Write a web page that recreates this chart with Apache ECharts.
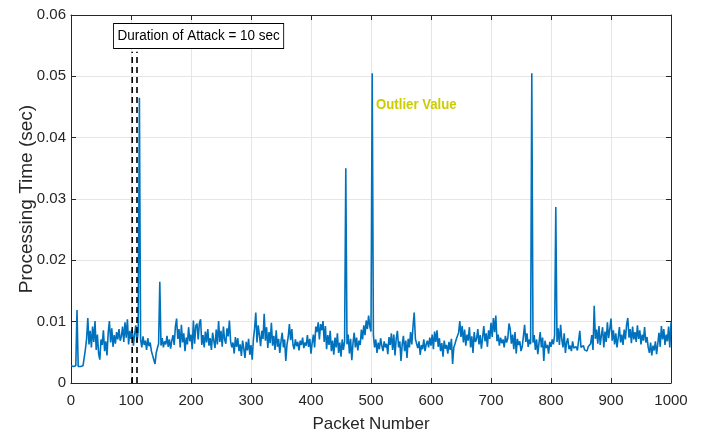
<!DOCTYPE html>
<html>
<head>
<meta charset="utf-8">
<script src="https://cdn.jsdelivr.net/npm/echarts@6/dist/echarts.min.js"></script>
<style>html,body{margin:0;padding:0;background:#fff}#c{width:708px;height:433px}</style>
</head>
<body>
<div id="c"></div>
<script>
// Packet numbers sampled every 2 packets, 0..1000
const packetStep = 2;
const processingTime = [
0.0028,0.0028,0.0027,0.0028,0.0028,0.0119,0.0027,0.0028,0.0027,0.0029,0.0028,0.0031,0.0055,0.0072,0.0106,0.0063,0.0085,0.0058,0.0092,0.0067,0.0101,0.0054,0.0079,0.0048,0.0038,0.0071,0.0062,0.0086,0.0052,0.0068,0.0045,0.0082,0.0101,0.0066,0.0089,0.0059,0.0078,0.0064,0.0083,0.0071,0.0088,0.0069,0.0076,0.0092,0.0067,0.0099,0.0074,0.0104,0.0063,0.0085,
0.0072,0.0088,0.0061,0.0079,0.0094,0.0067,0.0085,0.0465,0.0071,0.0058,0.0076,0.0062,0.0069,0.0054,0.0073,0.0060,0.0066,0.0052,0.0045,0.0038,0.0031,0.0049,0.0057,0.0064,0.0165,0.0061,0.0073,0.0058,0.0068,0.0063,0.0077,0.0059,0.0071,0.0056,0.0069,0.0078,0.0062,0.0092,0.0105,0.0072,0.0088,0.0058,0.0095,0.0066,0.0081,0.0052,0.0074,0.0063,0.0091,0.0068,
0.0079,0.0055,0.0102,0.0064,0.0093,0.0097,0.0071,0.0098,0.0104,0.0062,0.0078,0.0058,0.0084,0.0066,0.0088,0.0061,0.0073,0.0054,0.0082,0.0069,0.0057,0.0087,0.0063,0.0101,0.0067,0.0085,0.0059,0.0092,0.0071,0.0064,0.0089,0.0076,0.0102,0.0068,0.0058,0.0066,0.0048,0.0075,0.0059,0.0073,0.0052,0.0063,0.0044,0.0069,0.0056,0.0041,0.0067,0.0053,0.0072,0.0046,
0.0062,0.0038,0.0071,0.0089,0.0115,0.0066,0.0094,0.0078,0.0060,0.0085,0.0072,0.0113,0.0069,0.0091,0.0057,0.0083,0.0065,0.0098,0.0061,0.0077,0.0054,0.0086,0.0059,0.0072,0.0049,0.0068,0.0082,0.0058,0.0071,0.0036,0.0063,0.0075,0.0096,0.0070,0.0088,0.0062,0.0055,0.0071,0.0060,0.0067,0.0053,0.0069,0.0062,0.0074,0.0057,0.0066,0.0061,0.0078,0.0059,0.0072,
0.0048,0.0066,0.0079,0.0058,0.0092,0.0083,0.0099,0.0071,0.0096,0.0086,0.0101,0.0067,0.0093,0.0055,0.0078,0.0062,0.0085,0.0052,0.0069,0.0046,0.0074,0.0058,0.0081,0.0049,0.0066,0.0043,0.0071,0.0054,0.0068,0.0350,0.0063,0.0079,0.0048,0.0072,0.0037,0.0065,0.0082,0.0058,0.0074,0.0053,0.0069,0.0062,0.0087,0.0071,0.0094,0.0078,0.0102,0.0088,0.0110,0.0092,
0.0084,0.0505,0.0078,0.0058,0.0071,0.0049,0.0066,0.0055,0.0073,0.0061,0.0052,0.0068,0.0058,0.0064,0.0047,0.0075,0.0062,0.0081,0.0054,0.0079,0.0045,0.0072,0.0085,0.0058,0.0068,0.0036,0.0063,0.0077,0.0052,0.0069,0.0041,0.0072,0.0058,0.0083,0.0063,0.0092,0.0115,0.0072,0.0064,0.0057,0.0068,0.0046,0.0062,0.0055,0.0071,0.0052,0.0063,0.0069,0.0058,0.0074,
0.0061,0.0079,0.0055,0.0084,0.0067,0.0086,0.0059,0.0073,0.0052,0.0065,0.0043,0.0069,0.0056,0.0062,0.0048,0.0067,0.0054,0.0072,0.0031,0.0058,0.0064,0.0071,0.0068,0.0082,0.0101,0.0075,0.0093,0.0066,0.0087,0.0061,0.0079,0.0069,0.0091,0.0058,0.0076,0.0049,0.0083,0.0067,0.0072,0.0088,0.0063,0.0078,0.0056,0.0074,0.0093,0.0068,0.0081,0.0059,0.0086,0.0072,
0.0098,0.0075,0.0106,0.0083,0.0110,0.0068,0.0079,0.0061,0.0074,0.0065,0.0071,0.0058,0.0077,0.0066,0.0073,0.0097,0.0088,0.0064,0.0079,0.0055,0.0083,0.0048,0.0072,0.0062,0.0068,0.0052,0.0059,0.0076,0.0095,0.0067,0.0081,0.0059,0.0071,0.0063,0.0505,0.0066,0.0078,0.0054,0.0071,0.0047,0.0065,0.0083,0.0058,0.0074,0.0036,0.0069,0.0057,0.0062,0.0048,0.0067,
0.0059,0.0071,0.0063,0.0078,0.0287,0.0067,0.0089,0.0062,0.0095,0.0071,0.0058,0.0081,0.0049,0.0066,0.0073,0.0055,0.0061,0.0052,0.0068,0.0057,0.0054,0.0059,0.0053,0.0056,0.0085,0.0058,0.0055,0.0061,0.0054,0.0057,0.0052,0.0059,0.0056,0.0064,0.0078,0.0054,0.0126,0.0072,0.0087,0.0064,0.0093,0.0062,0.0078,0.0091,0.0058,0.0084,0.0067,0.0099,0.0073,0.0088,
0.0105,0.0069,0.0086,0.0063,0.0081,0.0058,0.0074,0.0091,0.0066,0.0079,0.0062,0.0087,0.0071,0.0095,0.0106,0.0074,0.0088,0.0065,0.0092,0.0071,0.0083,0.0067,0.0094,0.0072,0.0086,0.0063,0.0079,0.0069,0.0091,0.0066,0.0075,0.0058,0.0049,0.0066,0.0045,0.0061,0.0053,0.0068,0.0047,0.0064,0.0082,0.0059,0.0093,0.0071,0.0088,0.0062,0.0079,0.0068,0.0092,0.0058,0.0099
];
const attackStart = 102;
const attackEnd = 110;
const attackLineTop = 0.054;
const xTicks = [0,100,200,300,400,500,600,700,800,900,1000];
const yTicks = [0,0.01,0.02,0.03,0.04,0.05,0.06];

const seriesData = processingTime.map((v, i) => [i * packetStep, v]);
const FONT = '"Liberation Sans", Arial, Helvetica, sans-serif';
const AX = '#262626';

const chart = echarts.init(document.getElementById('c'), null, {renderer: 'canvas'});
const baseX = {
  type: 'value', min: 0, max: 1000, interval: 100,
  axisLine: {show: true, onZero: false, lineStyle: {color: AX, width: 1}},
  axisTick: {show: true, inside: true, length: 5, lineStyle: {color: AX}},
};
const baseY = {
  type: 'value', min: 0, max: 0.06, interval: 0.01,
  axisLine: {show: true, onZero: false, lineStyle: {color: AX, width: 1}},
  axisTick: {show: true, inside: true, length: 5, lineStyle: {color: AX}},
};
chart.setOption({
  animation: false,
  backgroundColor: '#fff',
  grid: {left: 71, right: 37, top: 15, bottom: 50, containLabel: false, outerBoundsMode: 'none'},
  xAxis: [
    Object.assign({}, baseX, {
      position: 'bottom',
      name: 'Packet Number', nameLocation: 'middle', nameGap: 33, nameMoveOverlap: false,
      nameTextStyle: {fontFamily: FONT, fontSize: 17, color: AX},
      axisLabel: {fontFamily: FONT, fontSize: 15, color: AX, margin: 10,
        formatter: v => xTicks.includes(v) ? String(v) : ''},
      splitLine: {show: true, lineStyle: {color: '#e6e6e6', width: 1}}
    }),
    Object.assign({}, baseX, {
      position: 'top', axisLabel: {show: false}, splitLine: {show: false}
    })
  ],
  yAxis: [
    Object.assign({}, baseY, {
      position: 'left',
      name: 'Processing Time (sec)', nameLocation: 'middle', nameGap: 35, nameMoveOverlap: false,
      nameTextStyle: {fontFamily: FONT, fontSize: 19, color: AX},
      axisLabel: {fontFamily: FONT, fontSize: 15, color: AX, margin: 5,
        formatter: v => { const t = yTicks.find(y => Math.abs(y - v) < 1e-9); return t === undefined ? '' : (t === 0 ? '0' : t.toFixed(2)); }},
      splitLine: {show: true, lineStyle: {color: '#e6e6e6', width: 1}}
    }),
    Object.assign({}, baseY, {
      position: 'right', axisLabel: {show: false}, splitLine: {show: false}
    })
  ],
  series: [
    {
      type: 'line', data: seriesData, showSymbol: false, symbol: 'none',
      sampling: null, lineStyle: {color: '#0072BD', width: 1.6}, z: 3
    },
    {
      type: 'line', data: [[attackStart, 0], [attackStart, attackLineTop]], symbol: 'none',
      lineStyle: {color: '#000', width: 1.6, type: [6, 4]}, z: 4
    },
    {
      type: 'line', data: [[attackEnd, 0], [attackEnd, attackLineTop]], symbol: 'none',
      lineStyle: {color: '#000', width: 1.6, type: [6, 4]}, z: 4
    }
  ],
  graphic: [
    {
      type: 'text', x: 114, y: 24, scaleX: 0.87, scaleY: 1, originX: 0, originY: 0, z: 10,
      style: {
        text: 'Duration of Attack = 10 sec', fontFamily: FONT, fontSize: 15.5, fill: '#000',
        backgroundColor: '#fff', borderColor: '#000', borderWidth: 1, padding: [4, 4, 4, 4]
      }
    },
    {
      type: 'text', x: 376, y: 97, scaleX: 0.88, scaleY: 1, originX: 0, originY: 0, z: 10,
      style: {
        text: 'Outlier Value', fontFamily: FONT, fontSize: 15, fontWeight: 'bold', fill: '#cccc00'
      }
    }
  ]
});
</script>
</body>
</html>
